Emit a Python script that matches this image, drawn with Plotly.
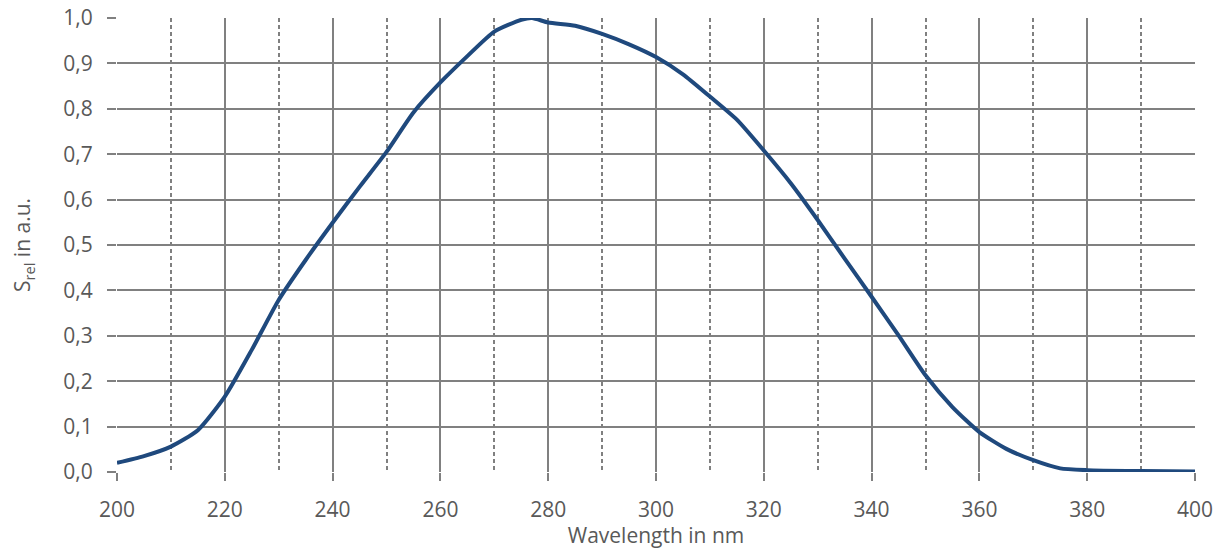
import plotly.graph_objects as go

wavelength = [200, 205, 210, 215, 220, 225, 230, 235, 240, 245, 250, 255, 260, 265, 270,
              275, 277, 280, 285, 290, 295, 300, 305, 310, 315, 320, 325, 330, 335, 340,
              345, 350, 355, 360, 365, 370, 375, 380, 390, 400]
s_rel = [0.020, 0.035, 0.056, 0.092, 0.166, 0.269, 0.379, 0.467, 0.549, 0.628, 0.705, 0.792,
         0.858, 0.916, 0.970, 0.996, 1.000, 0.990, 0.983, 0.965, 0.942, 0.914, 0.876, 0.827,
         0.776, 0.708, 0.636, 0.555, 0.470, 0.386, 0.301, 0.213, 0.143, 0.088, 0.051, 0.026,
         0.008, 0.004, 0.002, 0.001]

grid_col = "#808080"
txt_col = "#595959"
font_family = "'Open Sans', sans-serif"
fs = 21

fig = go.Figure()
fig.add_trace(go.Scatter(x=wavelength, y=s_rel, mode="lines",
                         line=dict(color="#1F497D", width=4, shape="spline", smoothing=0.6),
                         showlegend=False))

fig.update_layout(
    width=1226, height=549,
    margin=dict(l=117, r=31, t=18, b=77),
    paper_bgcolor="white", plot_bgcolor="white",
    separators=",.",
    font=dict(family=font_family, size=fs, color=txt_col),
    xaxis=dict(
        range=[200, 400], dtick=20, tick0=200, automargin=False,
        showgrid=True, gridcolor=grid_col, gridwidth=2,
        showline=False, zeroline=False,
        ticks="outside", ticklen=8, tickcolor=grid_col, tickwidth=2,
        ticklabelstandoff=11, ticklabeloverflow="allow",
        minor=dict(dtick=10, tick0=200, showgrid=True, gridcolor=grid_col, gridwidth=1.5,
                   griddash="4px,3px", ticks=""),
        title=dict(text="Wavelength in nm", font=dict(size=fs, color=txt_col), standoff=3),
        tickfont=dict(size=fs, color=txt_col),
    ),
    yaxis=dict(
        range=[0, 1.0], dtick=0.1, tick0=0, tickformat=".1f", automargin=False,
        showgrid=True, gridcolor=grid_col, gridwidth=2,
        showline=False, zeroline=False,
        ticks="outside", ticklen=9, tickcolor=grid_col, tickwidth=2,
        ticklabelstandoff=10, ticklabeloverflow="allow",
        title=dict(text="S<sub>rel</sub> in a.u.", font=dict(size=fs, color=txt_col), standoff=26),
        tickfont=dict(size=fs, color=txt_col),
    ),
)

fig.write_html("out.html", config={"displayModeBar": False},
               post_script="document.body.style.margin='0';document.body.style.padding='0';")
